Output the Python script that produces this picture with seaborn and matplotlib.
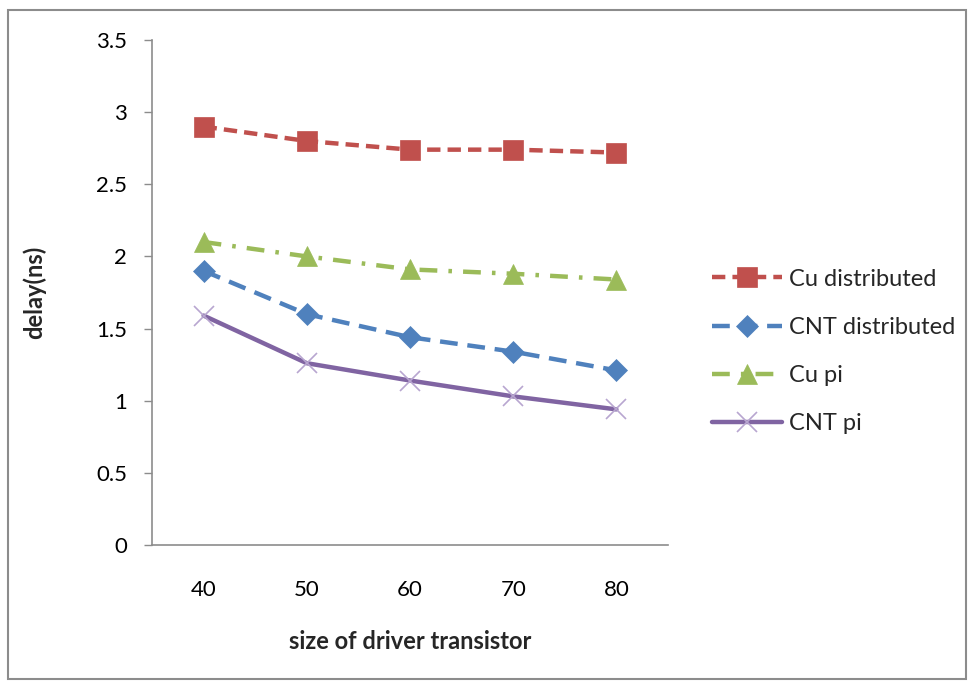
import matplotlib
matplotlib.use("Agg")
import matplotlib.pyplot as plt
import seaborn as sns
import pandas as pd
from matplotlib.patches import Rectangle

categories = ["40", "50", "60", "70", "80"]
cu_distributed = [2.90, 2.80, 2.74, 2.74, 2.72]
cnt_distributed = [1.90, 1.60, 1.44, 1.34, 1.21]
cu_pi = [2.10, 2.00, 1.91, 1.88, 1.84]
cnt_pi = [1.59, 1.26, 1.14, 1.03, 0.94]
series_names = ["Cu distributed", "CNT distributed", "Cu pi", "CNT pi"]
yticks = [0, 0.5, 1, 1.5, 2, 2.5, 3, 3.5]

sns.set_theme(style="white")
plt.rcParams["font.family"] = ["Lato", "DejaVu Sans"]

fig = plt.figure(figsize=(9.71, 6.81), dpi=100)
ax = fig.add_axes([152/971, 1-545/681, (668-152)/971, (545-40)/681])

styles = {
    "Cu distributed": dict(color="#C0504D", marker="s", ls=(0, (3, 1.6)), ms=14, mec="#C0504D"),
    "CNT distributed": dict(color="#4F81BD", marker="D", ls=(0, (4, 2.2)), ms=11, mec="#4F81BD"),
    "Cu pi": dict(color="#9BBB59", marker="^", ls=(0, (4, 2.5, 0.8, 2.5)), ms=14, mec="#9BBB59"),
    "CNT pi": dict(color="#8064A2", marker="x", ls="-", ms=14, mec="#B8A6D0"),
}
data = dict(zip(series_names, [cu_distributed, cnt_distributed, cu_pi, cnt_pi]))
x = list(range(len(categories)))
for name in series_names:
    df = pd.DataFrame({"x": x, "y": data[name]})
    st = styles[name]
    sns.lineplot(data=df, x="x", y="y", ax=ax, color=st["color"], linewidth=3.2,
                 linestyle=st["ls"], marker=st["marker"], markersize=st["ms"],
                 markeredgecolor=st["mec"], markeredgewidth=1.2 if name == "CNT pi" else 0.5,
                 label=name)

ax.set_xlim(-0.5, 4.5)
ax.set_ylim(0, 3.5)
ax.set_xticks(x)
ax.set_xticklabels(categories)
ax.set_yticks(yticks)
ax.set_yticklabels(["0", "0.5", "1", "1.5", "2", "2.5", "3", "3.5"])
for s in ["top", "right"]:
    ax.spines[s].set_visible(False)
for s in ["left", "bottom"]:
    ax.spines[s].set_color("#8C8C8C")
    ax.spines[s].set_linewidth(1.2)
ax.tick_params(axis="y", direction="out", length=6, width=1.0, color="#8C8C8C",
               left=True, labelsize=16, pad=12, labelcolor="#000000")
ax.tick_params(axis="x", length=0, labelsize=16, pad=25, labelcolor="#000000")
ax.set_xlabel("size of driver transistor", fontsize=17, fontweight="bold", labelpad=22)
ax.set_ylabel("delay(ns)", fontsize=17, fontweight="bold", labelpad=36)

leg = ax.legend(loc="upper left", bbox_to_anchor=(1.066, 0.566), frameon=False,
                fontsize=17, handlelength=3.0, labelspacing=1.15, handletextpad=0.3,
                borderaxespad=0)

fig.patches.append(Rectangle((8/971, 2/681), (966-8)/971, (671-2)/681, transform=fig.transFigure,
                             fill=False, edgecolor="#8C8C8C", linewidth=1.5))
fig.savefig("out.png", dpi=100)
